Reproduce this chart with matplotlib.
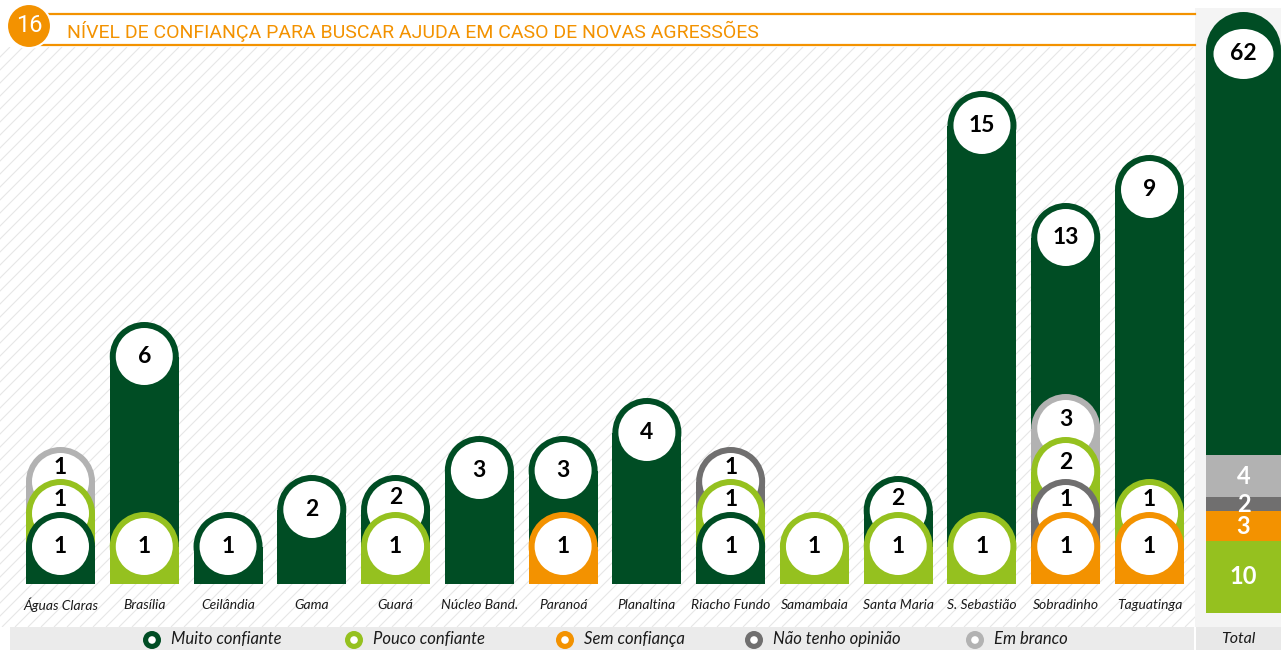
import matplotlib
matplotlib.use("Agg")
import matplotlib.pyplot as plt
from matplotlib.patches import Rectangle, Circle, Ellipse
from matplotlib.collections import LineCollection
import numpy as np

# data
categories = ['Águas Claras', 'Brasília', 'Ceilândia', 'Gama', 'Guará', 'Núcleo Band.',
              'Paranoá', 'Planaltina', 'Riacho Fundo', 'Samambaia', 'Santa Maria',
              'S. Sebastião', 'Sobradinho', 'Taguatinga']
series_names = ['Muito confiante', 'Pouco confiante', 'Sem confiança',
                'Não tenho opinião', 'Em branco']

muito = [1, 6, 1, 2, 2, 3, 3, 4, 1, 0, 2, 15, 13, 9]
pouco = [1, 1, 0, 0, 1, 0, 0, 0, 1, 1, 1, 1, 2, 1]
sem = [0, 0, 0, 0, 0, 0, 1, 0, 0, 0, 0, 0, 1, 1]
nao_opiniao = [0, 0, 0, 0, 0, 0, 0, 0, 1, 0, 0, 0, 1, 0]
em_branco = [1, 0, 0, 0, 0, 0, 0, 0, 0, 0, 0, 0, 3, 0]

# drawn bar heights (the chart is not to scale, so these are read separately)
muito_h = [72, 262, 72, 109, 109, 148, 148, 186, 72, 0, 108, 493, 381, 429]
pouco_h = [105, 72, 0, 0, 72, 0, 0, 0, 105, 72, 72, 72, 147, 105]
sem_h = [0, 0, 0, 0, 0, 0, 72, 0, 0, 0, 0, 0, 72, 72]
nao_opiniao_h = [0, 0, 0, 0, 0, 0, 0, 0, 137, 0, 0, 0, 105, 0]
em_branco_h = [137, 0, 0, 0, 0, 0, 0, 0, 0, 0, 0, 0, 190, 0]

# total column, stacked bottom -> top
total_order = [1, 2, 3, 4, 0]
total_h = [72, 30, 14, 42, 443]

colors = ['#004d24', '#95c11f', '#f39200', '#706f6f', '#b2b2b2']
orange = '#f39200'

values = [muito, pouco, sem, nao_opiniao, em_branco]
heights = [muito_h, pouco_h, sem_h, nao_opiniao_h, em_branco_h]
totals = [sum(v) for v in values]

W, H = 1281, 650
fig = plt.figure(figsize=(W / 100, H / 100), dpi=100)
ax = fig.add_axes([0, 0, 1, 1])
ax.set_xlim(0, W)
ax.set_ylim(0, H)
ax.axis('off')


def Y(py):
    return H - py


# background hatch
segs = []
for x0 in np.arange(-700, 1300, 13):
    segs.append([(x0, Y(627)), (x0 + 580, Y(47))])
hatch = LineCollection(segs, colors='#e6e6e6', linewidths=0.8, zorder=0)
ax.add_collection(hatch)
clip = Rectangle((0, Y(627)), 1195, 580, transform=ax.transData, fc='none', ec='none')
ax.add_patch(clip)
hatch.set_clip_path(clip)

# total panel background + bottom bands
ax.add_patch(Rectangle((1195, Y(627)), W - 1195, 619, fc='#f4f4f4', ec='none', zorder=0.5))
ax.add_patch(Rectangle((10, 0), 1184, Y(627), fc='#ebebeb', ec='none', zorder=0.5))
ax.add_patch(Rectangle((1196, 0), W - 1196, Y(627), fc='#e8e8e8', ec='none', zorder=0.5))

# title
ax.plot([40, 1195], [Y(13.5), Y(13.5)], color=orange, lw=1.6, zorder=2)
ax.plot([40, 1195], [Y(44.5), Y(44.5)], color=orange, lw=1.6, zorder=2)
ax.add_patch(Circle((29, Y(26)), 22, fc=orange, ec='white', lw=1.5, zorder=3))
ax.text(29, Y(26), '16', color='white', fontsize=17, family='Roboto', fontweight='normal',
        ha='center', va='center', zorder=4)
ax.text(67, Y(31), 'NÍVEL DE CONFIANÇA PARA BUSCAR AJUDA EM CASO DE NOVAS AGRESSÕES',
        color=orange, fontsize=14, family='Roboto', fontweight='normal',
        ha='left', va='center', zorder=3)

BASE = Y(584)
X0, SP = 60.5, 83.77
BW = 69
R = BW / 2
RC = 28.5
num_font = dict(family='Lato', fontweight='bold', fontsize=16.5, color='black')

for i, cat in enumerate(categories):
    xc = X0 + i * SP
    layers = [(heights[s][i], values[s][i], s) for s in range(len(values)) if values[s][i] > 0]
    layers.sort(key=lambda t: -t[0])
    for k, (h, v, s) in enumerate(layers):
        z = 5 + k
        ax.add_patch(Rectangle((xc - R, BASE), BW, h - R, fc=colors[s], ec='none', zorder=z))
        c = BASE + h - R
        ax.add_patch(Circle((xc, c), R, fc=colors[s], ec='none', zorder=z))
        ax.add_patch(Circle((xc, c), RC, fc='white', ec='none', zorder=z))
        ty = c
        if k + 1 < len(layers):
            h_next = BASE + layers[k + 1][0]
            if c - RC < h_next:
                ty = (c + RC + h_next) / 2 - 1.5
        ax.text(xc, ty, str(v), ha='center', va='center', zorder=z + 0.5, **num_font)
    ax.text(xc, Y(605), cat, ha='center', va='center', fontsize=10, family='Lato',
            style='italic', color='#1a1a1a', zorder=3)

# total column
TX, TW = 1243.5, 75
bottom = Y(613)
for j, s in enumerate(total_order):
    h = total_h[j]
    if j == len(total_order) - 1:
        tr = TW / 2
        ax.add_patch(Rectangle((TX - tr, bottom), TW, h - tr, fc=colors[s], ec='none', zorder=5))
        ax.add_patch(Circle((TX, bottom + h - tr), tr, fc=colors[s], ec='none', zorder=5))
        ax.add_patch(Ellipse((TX, bottom + h - 42), 60, 50, fc='white', ec='none', zorder=6))
        ax.text(TX, bottom + h - 42, str(totals[s]), ha='center', va='center', zorder=7, **num_font)
    else:
        ax.add_patch(Rectangle((TX - TW / 2, bottom), TW, h, fc=colors[s], ec='none', zorder=5))
        ax.text(TX, bottom + h / 2, str(totals[s]), ha='center', va='center', zorder=7,
                family='Lato', fontweight='bold', fontsize=17, color='white')
    bottom += h
ax.text(1238, Y(639), 'Total', ha='center', va='center', fontsize=11.5, family='Lato',
        style='italic', color='#1a1a1a', zorder=3)

# legend
leg_x = [152, 354, 565, 754, 975]
for s, name in enumerate(series_names):
    ax.add_patch(Circle((leg_x[s], Y(640)), 9, fc=colors[s], ec='none', zorder=3))
    ax.add_patch(Circle((leg_x[s], Y(640)), 3.8, fc='white', ec='none', zorder=4))
    ax.text(leg_x[s] + 19, Y(639), name, ha='left', va='center', fontsize=12,
            family='Lato', style='italic', color='#1a1a1a', zorder=3)

fig.savefig('out.png', dpi=100)
